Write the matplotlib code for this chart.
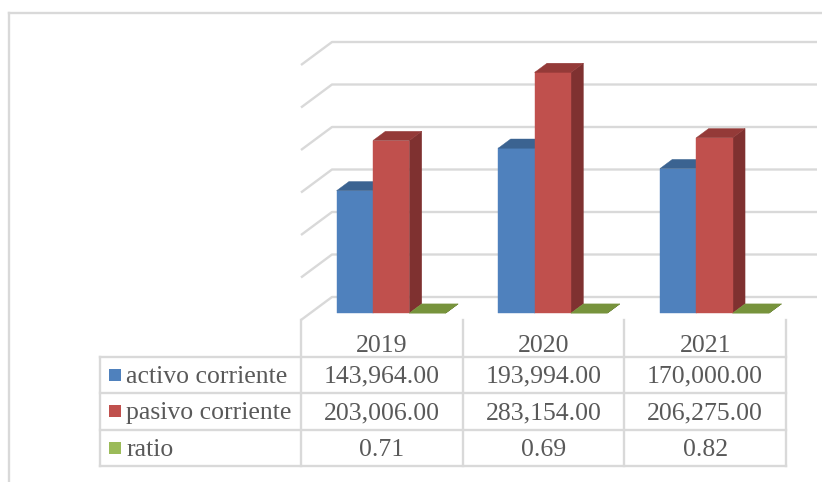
import matplotlib
matplotlib.use("Agg")
import matplotlib.pyplot as plt
from matplotlib.lines import Line2D
from matplotlib.patches import Polygon

# data
years = ["2019", "2020", "2021"]
series_names = ["activo corriente", "pasivo corriente", "ratio"]
activo = [143964.00, 193994.00, 170000.00]
pasivo = [203006.00, 283154.00, 206275.00]
ratio = [0.71, 0.69, 0.82]
grid_ticks = [0, 50000, 100000, 150000, 200000, 250000, 300000]

# style
front_cols = ["#4F81BD", "#C0504D", "#77933C"]
top_cols = ["#3B6391", "#943A38", "#77933C"]
side_cols = ["#385D8A", "#7F3130", "#5E7530"]
swatch_cols = ["#4F81BD", "#C0504D", "#9BBB59"]
grid_col = "#D9D9D9"
text_col = "#595959"

plt.rcParams["font.family"] = ["Liberation Serif", "DejaVu Serif"]

W, H = 822, 482
fig = plt.figure(figsize=(W / 100, H / 100), dpi=100)


def fx(px):
    return px / W


def fy(py):
    return 1 - py / H


# 3d geometry (in axis units)
px_per_cat = (786 - 301) / 3
px_per_val = 42.5 / 50000
DX = 31 / px_per_cat
DY = 23 / px_per_val
BW = 0.225
FRONT = 0.3   # bar front position along depth
DEPTH = 0.4   # bar depth

ax = fig.add_axes([fx(301), fy(320), (786 - 301) / W, (320 - 13) / H])
ax.set_xlim(-0.5, 2.5)
ax.set_ylim(0, (320 - 13) / px_per_val)
ax.axis("off")

# back wall + side wall gridlines
for v in grid_ticks:
    ax.plot([-0.5, -0.5 + DX, 2.5 + DX], [v, v + DY, v + DY],
            color=grid_col, lw=1.7, solid_capstyle="butt", zorder=1, clip_on=False)

all_series = [activo, pasivo, ratio]
for j in range(len(years)):
    for k, vals in enumerate(all_series):
        h = vals[j]
        x0 = j + (k - 1.5) * BW + FRONT * DX
        x1 = x0 + BW
        b = FRONT * DY
        d, dd = DEPTH * DX, DEPTH * DY
        front = [(x0, b), (x1, b), (x1, b + h), (x0, b + h)]
        top = [(x0, b + h), (x1, b + h), (x1 + d, b + h + dd), (x0 + d, b + h + dd)]
        side = [(x1, b), (x1 + d, b + dd), (x1 + d, b + h + dd), (x1, b + h)]
        for poly, c in [(side, side_cols[k]), (front, front_cols[k]), (top, top_cols[k])]:
            ax.add_patch(Polygon(poly, closed=True, facecolor=c, edgecolor=c,
                                 lw=0.3, zorder=3, clip_on=False))

# data table
label_w = 201 / px_per_cat
tax = fig.add_axes([fx(100), fy(466), (786 - 100) / W, (466 - 320) / H])
xl = -0.5 - label_w
tax.set_xlim(xl, 2.5)
tax.set_ylim(3.5, -0.5)
tax.axis("off")

lkw = dict(color=grid_col, lw=1.7, clip_on=False, solid_capstyle="projecting")
for j in range(len(years) + 1):
    tax.plot([j - 0.5, j - 0.5], [-0.5, 3.5], **lkw)
tax.plot([xl, xl], [0.5, 3.5], **lkw)
for r in [0.5, 1.5, 2.5, 3.5]:
    tax.plot([xl, 2.5], [r, r], **lkw)

fs = 18.5
for j, yr in enumerate(years):
    tax.text(j, 0.2, yr, ha="center", va="center", fontsize=fs, color=text_col)

for i, (name, vals) in enumerate(zip(series_names, all_series)):
    row = i + 1
    tax.plot([xl + 14.5 / px_per_cat], [row], marker="s", ms=8.6, mew=0,
             color=swatch_cols[i], clip_on=False)
    tax.text(xl + 26 / px_per_cat, row + 0.05, name, ha="left", va="center",
             fontsize=fs, color=text_col)
    for j, v in enumerate(vals):
        tax.text(j, row + 0.05, f"{v:,.2f}", ha="center", va="center",
                 fontsize=fs, color=text_col)

# chart frame
fig.add_artist(Line2D([fx(8.5), fx(8.5)], [fy(13), 0], color=grid_col, lw=1.7))
fig.add_artist(Line2D([fx(8.5), 1], [fy(13), fy(13)], color=grid_col, lw=1.7))

fig.savefig("out.png", dpi=100, facecolor="white")
